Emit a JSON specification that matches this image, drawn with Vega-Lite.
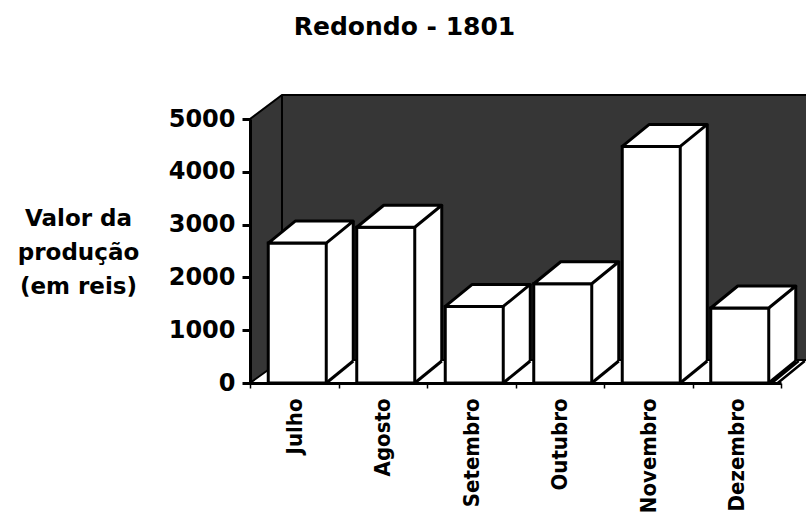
{
  "$schema": "https://vega.github.io/schema/vega-lite/v6.json",
  "width": 531,
  "height": 264,
  "autosize": {"type": "none"},
  "padding": {"left": 250, "top": 119, "right": 25, "bottom": 139},
  "background": "white",
  "config": {"view": {"stroke": null}},
  "title": {
    "text": "Redondo - 1801",
    "font": "DejaVu Sans",
    "fontSize": 25,
    "fontWeight": "bold",
    "color": "black",
    "anchor": "middle",
    "dx": -111,
    "offset": 51
  },
  "data": {
    "values": [
      {"mes": "Julho", "valor": 2650},
      {"mes": "Agosto", "valor": 2950},
      {"mes": "Setembro", "valor": 1450},
      {"mes": "Outubro", "valor": 1880},
      {"mes": "Novembro", "valor": 4480},
      {"mes": "Dezembro", "valor": 1420}
    ]
  },
  "encoding": {
    "x": {
      "field": "mes",
      "type": "nominal",
      "sort": null,
      "scale": {"paddingInner": 0, "paddingOuter": 0},
      "axis": {
        "title": null,
        "labelAngle": -90,
        "labelAlign": "right",
        "labelBaseline": "middle",
        "labelFont": "DejaVu Sans Condensed",
        "labelFontWeight": "bold",
        "labelFontSize": 22,
        "labelColor": "black",
        "labelPadding": 10,
        "tickSize": 5,
        "tickWidth": 1.5,
        "tickColor": "black",
        "tickBand": "extent",
        "domainColor": "black",
        "domainWidth": 3,
        "zindex": 1
      }
    },
    "y": {
      "field": "valor",
      "type": "quantitative",
      "scale": {"domain": [0, 5000], "nice": false},
      "axis": {
        "title": ["Valor da", "produção", "(em reis)"],
        "titleAngle": 0,
        "titleAlign": "center",
        "titleBaseline": "alphabetic",
        "titleX": -172,
        "titleY": 106,
        "titleFont": "DejaVu Sans",
        "titleFontSize": 23,
        "titleFontWeight": "bold",
        "titleColor": "black",
        "titleLineHeight": 34,
        "values": [0, 1000, 2000, 3000, 4000, 5000],
        "format": "d",
        "grid": false,
        "labelFont": "DejaVu Sans",
        "labelFontSize": 24,
        "labelFontWeight": "bold",
        "labelColor": "black",
        "labelPadding": 7,
        "tickSize": 8,
        "tickWidth": 3,
        "tickColor": "black",
        "domainColor": "black",
        "domainWidth": 3,
        "zindex": 1
      }
    }
  },
  "layer": [
    {
      "transform": [{"filter": "datum.mes === 'Julho'"}],
      "mark": {
        "type": "point",
        "shape": "M -44.25 0 L -44.25 -264 L -12.25 -288 L 520 -288 L 520 -23 L -12.25 -23 Z M -12.25 -288 L -12.25 -23",
        "size": 4,
        "filled": true,
        "fill": "#363636",
        "stroke": "black",
        "strokeWidth": 2,
        "opacity": 1
      },
      "encoding": {"y": {"datum": 0}}
    },
    {
      "mark": {"type": "bar", "width": 27, "xOffset": 45.5, "yOffset": -22, "fill": "white", "stroke": null}
    },
    {
      "mark": {"type": "bar", "width": 58, "xOffset": 3, "fill": "white", "stroke": "black", "strokeWidth": 3}
    },
    {
      "mark": {
        "type": "point",
        "shape": "M -26 0 L 32 0 L 59 -22 L 1 -22 Z",
        "size": 4,
        "filled": true,
        "fill": "white",
        "stroke": "black",
        "strokeWidth": 3,
        "strokeJoin": "round",
        "opacity": 1
      }
    },
    {
      "mark": {"type": "rule", "xOffset": 59, "yOffset": -22, "y2Offset": -22, "stroke": "black", "strokeWidth": 3},
      "encoding": {"y2": {"datum": 0}}
    },
    {
      "mark": {
        "type": "point",
        "shape": "M 32 0 L 59 -22",
        "size": 4,
        "filled": false,
        "stroke": "black",
        "strokeWidth": 3,
        "opacity": 1
      },
      "encoding": {"y": {"datum": 0}}
    },
    {
      "transform": [{"filter": "datum.mes === 'Dezembro'"}],
      "mark": {
        "type": "point",
        "shape": "M 35 0 L 62 -22 M 41 0 L 68 -22",
        "size": 4,
        "filled": false,
        "stroke": "black",
        "strokeWidth": 2.5,
        "opacity": 1
      },
      "encoding": {"y": {"datum": 0}}
    }
  ]
}
